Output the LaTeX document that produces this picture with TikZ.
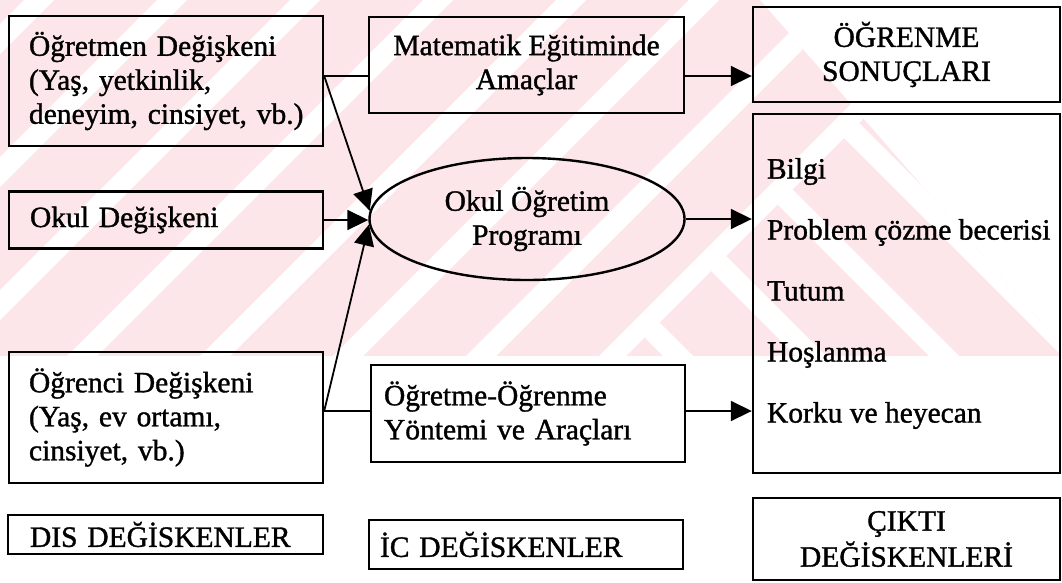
\documentclass[tikz,border=0pt]{standalone}
\usepackage{fontspec}
\setmainfont{Liberation Serif}[FakeBold=1.2]
\usetikzlibrary{shapes.geometric,arrows.meta,calc}
\definecolor{wm}{RGB}{252,230,234}
\begin{document}
\begin{tikzpicture}[x=1pt,y=-1pt,
  every node/.style={font=\fontsize{29.5}{34}\selectfont},
  box/.style={draw, line width=2.4pt, inner ysep=0pt},
  conn/.style={line width=1.8pt},
  arr/.style={conn, -{Triangle[length=21pt,width=20pt]}}]
\useasboundingbox (0,0) rectangle (1062,582);
% watermark
\begin{scope}
  \clip (0,0) -- (760,0) -- (1062,346) -- (1062,356) -- (0,356) -- cycle;
  \fill[wm] (0,0) rectangle (1062,356);
  \begin{scope}
    \clip (0,0) -- (982,0) -- (626,356) -- (0,356) -- cycle;
    \foreach \a in {24,157,290,423,556,689,822,955}
      {\fill[white] (\a,0) -- (\a+30,0) -- (\a-370,400) -- (\a-400,400) -- cycle;}
  \end{scope}
  \begin{scope}
    \clip (982,0) -- (1062,0) -- (1062,356) -- (626,356) -- cycle;
    \foreach \a in {174,307,440,573,706,839}
      {\fill[white] (\a,0) -- (\a+30,0) -- (\a+430,400) -- (\a+400,400) -- cycle;}
  \end{scope}
\end{scope}
% left column
\node[box, text width=274pt, inner xsep=20pt, minimum height=130pt, align=left] (A) at (166,81)
  {\mbox{Öğretmen Değişkeni}\\\mbox{(Yaş, yetkinlik,}\\\mbox{deneyim, cinsiyet, vb.)}};
\node[box, text width=272pt, inner xsep=21pt, minimum height=57pt, align=left] (B) at (166,220)
  {\mbox{Okul Değişkeni}};
\node[box, text width=274pt, inner xsep=20pt, minimum height=131pt, align=left] (C) at (166,417.5)
  {\mbox{Öğrenci Değişkeni}\\\mbox{(Yaş, ev ortamı,}\\\mbox{cinsiyet, vb.)}};
\node[box, text width=271pt, inner xsep=22pt, minimum height=39pt, align=left] (D) at (165.5,534.5)
  {\mbox{DIS DEĞİSKENLER}};
% middle column
\node[box, inner xsep=0pt, minimum width=315pt, minimum height=96pt, align=center] (M) at (526.5,65)
  {Matematik Eğitiminde\\Amaçlar};
\node[draw, ellipse, line width=2.4pt, inner sep=0pt, minimum width=315pt, minimum height=122pt, align=center] (E) at (527,219)
  {Okul Öğretim\\Programı};
\node[box, text width=288pt, inner xsep=13pt, minimum height=97pt, align=left] (Y) at (528,413.5)
  {\mbox{Öğretme-Öğrenme}\\\mbox{Yöntemi ve Araçları}};
\node[box, text width=292pt, inner xsep=11pt, minimum height=49pt, align=left] (IC) at (526,544.5)
  {\mbox{İC DEĞİSKENLER}};
% right column
\node[box, inner xsep=0pt, minimum width=307pt, minimum height=95pt, align=center] (R1) at (906.5,54.5)
  {ÖĞRENME\\SONUÇLARI};
\node[box, inner sep=0pt, minimum width=307pt, minimum height=359pt] (R2) at (906.5,293.5) {};
\node[anchor=west, inner sep=0pt, align=left, font=\fontsize{29.5}{61}\selectfont] (L) at ([xshift=15pt]R2.west)
  {Bilgi\\Problem çözme becerisi\\Tutum\\Hoşlanma\\Korku ve heyecan};
\node[box, inner xsep=0pt, minimum width=307pt, minimum height=82pt, align=center, font=\fontsize{29.5}{36}\selectfont] (R3) at (906.5,539)
  {ÇIKTI\\DEĞİSKENLERİ};
% connectors
\coordinate (a1) at ([yshift=5pt]A.east);
\coordinate (m1) at ([yshift=-11pt]M.east);
\coordinate (c1) at ([yshift=6.5pt]C.east);
\coordinate (y1) at ([yshift=2.5pt]Y.east);
\draw[conn] (a1) -- (a1 -| M.west);
\draw[arr] (m1) -- (m1 -| R1.west);
\draw[arr] (a1) -- (E.177.5);
\draw[arr] (B.east) -- (B.east -| E.west);
\draw[conn] (c1) -- (c1 -| Y.west);
\draw[arr] (c1) -- (E.182);
\draw[arr] (E.east) -- (E.east -| R2.west);
\draw[arr] (y1) -- (y1 -| R2.west);
\end{tikzpicture}
\end{document}
